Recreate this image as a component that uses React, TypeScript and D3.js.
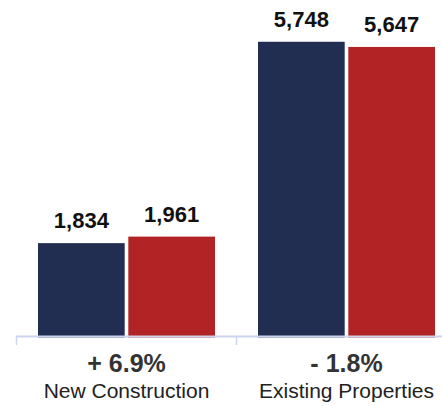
import React from "react";
import * as d3 from "d3";

const categories = ["New Construction", "Existing Properties"];
const changeLabels = ["+ 6.9%", "- 1.8%"];
const seriesNames = ["prior", "current"];
const priorValues = [1834, 5748];
const currentValues = [1961, 5647];
const seriesColors = ["#222d52", "#b22325"];

const W = 442;
const H = 406;

export default function App() {
  const x0 = d3.scaleBand<string>().domain(categories).range([16, 456]).padding(0);
  const x1 = d3
    .scaleBand<string>()
    .domain(seriesNames)
    .range([22, 199])
    .paddingInner(0.04)
    .paddingOuter(0);
  const y = d3.scaleLinear().domain([0, 6000]).range([337.5, 28.8]);
  const fmt = d3.format(",");
  const values = [priorValues, currentValues];
  const font = "'Liberation Sans', Arial, Helvetica, sans-serif";

  return (
    <svg
      width={W}
      height={H}
      style={{ position: "absolute", left: 0, top: 0, background: "#fff" }}
      fontFamily={font}
    >
      {categories.map((c, ci) => (
        <g key={c} transform={`translate(${x0(c)},0)`}>
          {seriesNames.map((s, si) => {
            const v = values[si][ci];
            const bx = x1(s)!;
            const bw = x1.bandwidth();
            return (
              <g key={s}>
                <rect
                  x={bx}
                  y={y(v)}
                  width={bw}
                  height={y(0) - y(v)}
                  fill={seriesColors[si]}
                />
                <text
                  x={bx + bw / 2}
                  y={y(v) - 15}
                  textAnchor="middle"
                  fontSize={22}
                  fontWeight="bold"
                  fill="#111"
                >
                  {fmt(v)}
                </text>
              </g>
            );
          })}
          <text
            x={x0.bandwidth() / 2 + 0.5}
            y={372}
            textAnchor="middle"
            fontSize={25}
            fontWeight="bold"
            fill="#333"
          >
            {changeLabels[ci]}
          </text>
          <text
            x={x0.bandwidth() / 2 + 0.5}
            y={398}
            textAnchor="middle"
            fontSize={21}
            fill="#222"
          >
            {c}
          </text>
        </g>
      ))}
      <line x1={16} x2={W} y1={336.5} y2={336.5} stroke="#cbd5ec" strokeWidth={2} />
      {categories.map((c) => (
        <line
          key={c}
          x1={x0(c)! + 0.5}
          x2={x0(c)! + 0.5}
          y1={336}
          y2={345}
          stroke="#cbd5ec"
          strokeWidth={1.5}
        />
      ))}
    </svg>
  );
}
